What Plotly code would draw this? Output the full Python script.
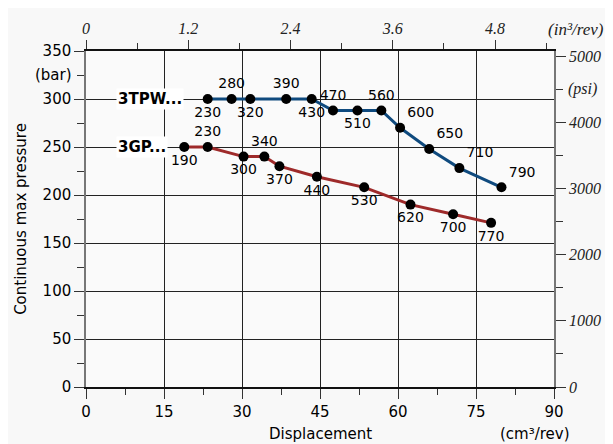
import plotly.graph_objects as go

# 3TPW series
tpw_disp = [23.4, 28.0, 31.6, 38.5, 43.4, 47.5, 52.2, 56.8, 60.4, 66.0, 71.8, 79.9]
tpw_bar = [300, 300, 300, 300, 300, 288, 288, 288, 270, 248, 228, 208]
tpw_labels = ["230", "280", "320", "390", "430", "470", "510", "560", "600", "650", "710", "790"]
tpw_pos = ["bottom center", "top center", "bottom center", "top center", "bottom center",
           "top center", "bottom center", "top center", "top right", "top right",
           "top right", "top right"]

# 3GP series
gp_disp = [18.9, 23.4, 30.3, 34.3, 37.2, 44.4, 53.5, 62.4, 70.6, 77.9]
gp_bar = [250, 250, 240, 240, 230, 219, 208, 190, 180, 171]
gp_labels = ["190", "230", "300", "340", "370", "440", "530", "620", "700", "770"]
gp_pos = ["bottom center", "top center", "bottom center", "top center", "bottom center",
          "bottom center", "bottom center", "bottom center", "bottom center", "bottom center"]

x_ticks = [0, 15, 30, 45, 60, 75, 90]
y_ticks = [0, 50, 100, 150, 200, 250, 300, 350]
in_ticks = [0, 1.2, 2.4, 3.6, 4.8]
in_labels = ["0", "1.2", "2.4", "3.6", "4.8"]
psi_ticks = [0, 1000, 2000, 3000, 4000, 5000]

CM3_PER_IN3 = 16.387064
PSI_PER_BAR = 14.5038

label_font = dict(family="DejaVu Sans, Verdana", size=14, color="black")
tick_font = dict(family="DejaVu Sans, Verdana", size=15, color="black")
serif_font = dict(family="Liberation Serif, Times New Roman", size=16, color="#222")

fig = go.Figure()
fig.add_trace(go.Scatter(
    x=tpw_disp, y=tpw_bar, mode="lines+markers+text", text=tpw_labels,
    textposition=tpw_pos, textfont=label_font,
    line=dict(color="#0f4a7e", width=3), marker=dict(color="black", size=10),
    cliponaxis=False, showlegend=False))
fig.add_trace(go.Scatter(
    x=gp_disp, y=gp_bar, mode="lines+markers+text", text=gp_labels,
    textposition=gp_pos, textfont=label_font,
    line=dict(color="#9e2a2a", width=3), marker=dict(color="black", size=10),
    cliponaxis=False, showlegend=False))
# invisible trace to activate secondary axes
fig.add_trace(go.Scatter(x=[0], y=[0], xaxis="x2", yaxis="y2", mode="markers",
                         marker=dict(opacity=0), showlegend=False, hoverinfo="skip"))

grid_col = "#222"
fig.update_layout(
    width=605, height=436,
    margin=dict(l=76, r=57, t=39, b=57),
    paper_bgcolor="#f8f8f8", plot_bgcolor="#fafafa",
    xaxis=dict(range=[0, 90], tickvals=x_ticks, ticks="outside", ticklen=10,
               tickcolor="#333", tickfont=tick_font, showgrid=True, gridcolor=grid_col,
               gridwidth=1, showline=True, linecolor="#111", linewidth=1.5,
               zeroline=False,
               minor=dict(dtick=7.5, ticks="outside", ticklen=6, tickcolor="#333",
                          showgrid=False)),
    yaxis=dict(range=[0, 350], tickvals=y_ticks, ticks="outside", ticklen=10,
               tickcolor="#333", tickfont=tick_font, showgrid=True, gridcolor=grid_col,
               gridwidth=1, showline=True, linecolor="#777", linewidth=1.5,
               zeroline=False,
               title=dict(text="Continuous max pressure", font=tick_font, standoff=12),
               minor=dict(dtick=25, ticks="outside", ticklen=7, tickcolor="#333",
                          showgrid=False)),
    xaxis2=dict(range=[0, 90 / CM3_PER_IN3], overlaying="x", side="top",
                tickvals=in_ticks, ticktext=["<i>%s</i>" % t for t in in_labels],
                ticks="outside", ticklen=9, tickcolor="#333", tickfont=serif_font,
                showgrid=False, showline=True, linecolor="#111", linewidth=1.5,
                zeroline=False,
                minor=dict(dtick=0.6, ticks="outside", ticklen=6, tickcolor="#333")),
    yaxis2=dict(range=[0, 350 * PSI_PER_BAR], overlaying="y", side="right",
                tickvals=psi_ticks, ticktext=["<i>%d</i>" % v for v in psi_ticks],
                ticks="outside", ticklen=10, tickcolor="#333",
                tickfont=serif_font, showgrid=False, showline=True, linecolor="#777",
                linewidth=1.5, zeroline=False,
                minor=dict(dtick=500, ticks="outside", ticklen=7, tickcolor="#333")),
)

annotations = [
    dict(x=0, y=325, xref="paper", yref="y", text="(bar)", showarrow=False,
         xanchor="right", xshift=-12, font=tick_font),
    dict(x=1, y=4500, xref="paper", yref="y2", text="<i>(psi)</i>", showarrow=False,
         xanchor="left", xshift=12, font=serif_font),
    dict(x=1, y=1, xref="paper", yref="paper", text="<i>(in³/rev)</i>",
         showarrow=False, xanchor="center", yanchor="bottom", xshift=22, yshift=10,
         font=dict(family="Liberation Serif, Times New Roman", size=17, color="#222")),
    dict(x=0.5, y=0, xref="paper", yref="paper", text="Displacement", showarrow=False,
         xanchor="center", yanchor="top", yshift=-36, font=tick_font),
    dict(x=1, y=0, xref="paper", yref="paper", text="(cm³/rev)",
         showarrow=False, xanchor="center", yanchor="top", xshift=-19, yshift=-36,
         font=tick_font),
    dict(x=12.4, y=300, xref="x", yref="y", text="<b>3TPW...</b>", showarrow=False,
         bgcolor="white", borderpad=1,
         font=dict(family="DejaVu Sans, Verdana", size=15, color="black")),
    dict(x=10.8, y=250, xref="x", yref="y", text="<b>3GP...</b>", showarrow=False,
         bgcolor="white", borderpad=1,
         font=dict(family="DejaVu Sans, Verdana", size=15, color="black")),
]
fig.update_layout(annotations=annotations)

fig.write_html("out.html")
